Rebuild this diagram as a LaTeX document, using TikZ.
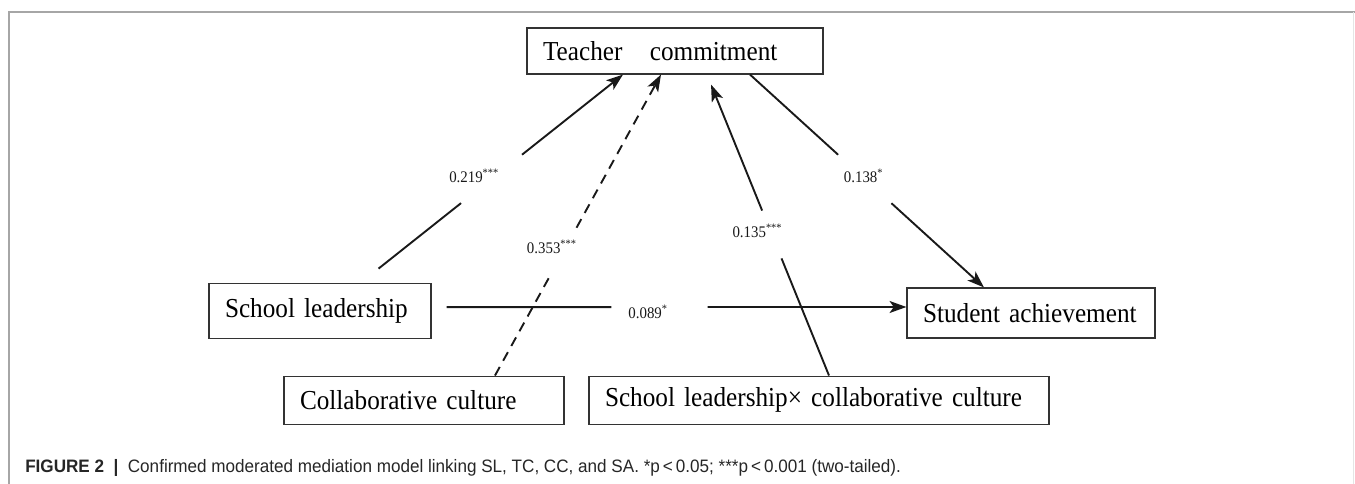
\documentclass[tikz,border=0pt]{standalone}
\usepackage{fontspec}
\setmainfont[FakeStretch=0.92]{Liberation Serif}
\newfontfamily\capfont[FakeStretch=0.95]{Liberation Sans}
\usetikzlibrary{arrows,arrows.meta,positioning}

\begin{document}
\begin{tikzpicture}[>={Stealth[length=12pt,width=8.5pt,inset=3pt]}]
\tikzstyle{var}=[draw=black!80,line width=0.8pt,fill=white,inner xsep=0.4cm,inner ysep=0pt,align=left,font=\fontsize{19.5}{21}\selectfont]
\tikzstyle{coef}=[font=\fontsize{11.5}{13}\selectfont,inner sep=1pt]
\tikzstyle{link}=[line width=1.35pt,black!90]
\tikzstyle{dashlink}=[link,dash pattern=on 7pt off 5pt]

\useasboundingbox (0,0) rectangle (33.875,-12.1);
% page frame
\draw[black!35,line width=1.3pt] (0.225,-12.1) -- (0.225,-0.3) -- (33.875,-0.3);
\draw[black!10] (33.825,-0.3) -- (33.825,-12.1);

\node[var,text width=6.6cm,minimum height=1.15cm]  (TC) at (16.875,-1.275) {Teacher\ \ \ commitment};
\node[var,text width=4.75cm,minimum height=1.375cm] (SL) [below of=TC,node distance=6.49cm,xshift=-8.875cm] {School leadership};
\node[var,text width=5.4cm,minimum height=1.25cm]  (SA) [below of=TC,node distance=6.55cm,xshift=8.9cm] {Student achievement};
\node[var,text width=6.2cm,minimum height=1.2cm]   (CC) [below of=SL,node distance=2.2375cm,xshift=2.6cm] {Collaborative culture};
\node[var,text width=10.7cm,minimum height=1.2cm]  (SCC) [right of=CC,node distance=9.875cm] {School leadership× collaborative culture};

% SL -> TC
\draw[link,shorten <=0.56cm,shorten >=5.17cm] ([xshift=1.025cm]SL.north) -- ([xshift=-1.3cm]TC.south);
\draw[link,->,shorten <=5.14cm] ([xshift=1.025cm]SL.north) -- ([xshift=-1.3cm]TC.south)
  node[coef,pos=0.512,xshift=-0.525cm] (c1) {0.219\textsuperscript{***}};

% CC -> TC
\draw[dashlink,shorten >=5.79cm] ([xshift=1.775cm]CC.north) -- ([xshift=-0.35cm]TC.south);
\draw[dashlink,->,shorten <=4.22cm] ([xshift=1.775cm]CC.north) -- ([xshift=-0.35cm]TC.south)
  node[coef,pos=0.427,xshift=-0.35cm] (c2) {0.353\textsuperscript{***}};

% SCC -> TC
\draw[link,shorten >=4.96cm] ([xshift=0.25cm]SCC.north) -- ([xshift=0.8cm]TC.south);
\draw[link,->,shorten <=4.45cm,shorten >=0.27cm] ([xshift=0.25cm]SCC.north) -- ([xshift=0.8cm]TC.south)
  node[coef,pos=0.48,xshift=-0.325cm] (c3) {0.135\textsuperscript{***}};

% TC -> SA
\draw[link,shorten >=4.93cm] ([xshift=1.875cm]TC.south) -- ([xshift=-1.175cm]SA.north);
\draw[link,->,shorten <=4.78cm] ([xshift=1.875cm]TC.south) -- ([xshift=-1.175cm]SA.north)
  node[coef,pos=0.477,xshift=0.05cm] (c4) {0.138\textsuperscript{*}};

% SL -> SA
\draw[link,shorten <=0.375cm,shorten >=7.375cm] ([yshift=0.0875cm]SL.east) -- ([yshift=0.15cm]SA.west);
\draw[link,->,shorten <=6.9cm] ([yshift=0.0875cm]SL.east) -- ([yshift=0.15cm]SA.west)
  node[coef,pos=0.456,yshift=-0.125cm] (c5) {0.089\textsuperscript{*}};

\node[anchor=west,inner sep=0pt,text=black!85,font=\capfont\fontsize{12.8}{14}\selectfont] (cap) at (0.625,-11.7)
  {\textbf{FIGURE 2}\ \ \textbf{|}\ \ Confirmed moderated mediation model linking SL, TC, CC, and SA. *p\,<\,0.05; ***p\,<\,0.001 (two-tailed).};
\end{tikzpicture}
\end{document}
